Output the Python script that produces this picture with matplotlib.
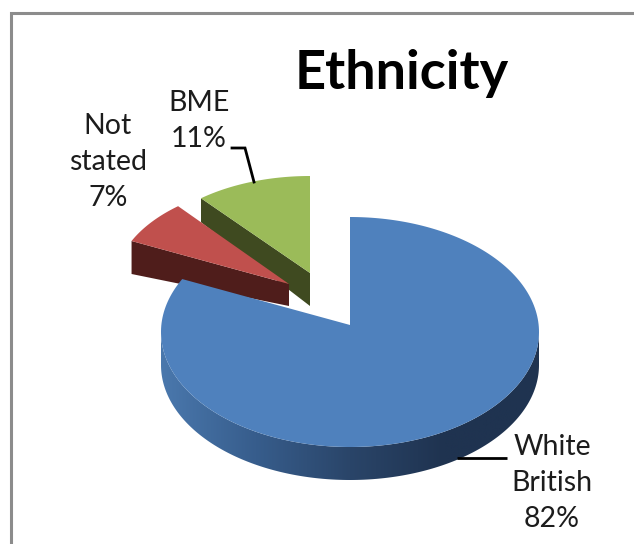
import numpy as np
import matplotlib
matplotlib.use('Agg')
import matplotlib.pyplot as plt
from matplotlib.colors import LinearSegmentedColormap
from matplotlib.patches import Polygon

categories = ['White\nBritish', 'Not\nstated', 'BME']
shares = [82, 7, 11]

top_colors = ['#4f81bd', '#c0504d', '#9bbb59']
wall_colors = ['#1f3350', '#4f1d1b', '#3f4a20']

plt.rcParams['font.family'] = ['Lato', 'DejaVu Sans']

fig = plt.figure(figsize=(6.34, 5.44), dpi=100)
ax = fig.add_axes([0, 0, 1, 1])
ax.set_xlim(0, 634)
ax.set_ylim(544, 0)
ax.axis('off')

# slice angles, clockwise from 12 o'clock
edges = np.cumsum([0] + shares) / sum(shares) * 2 * np.pi


def arc(t0, t1, cx, cy, rx, ry, n=80, warp=0.0):
    t = np.linspace(t0, t1, n)
    # warp foreshortens the angles the way a tilted disc does
    t = t - warp * np.sin(2 * t)
    return np.column_stack([cx + rx * np.sin(t), cy - ry * np.cos(t)])


def draw_exploded(i, apex, rx, ry, depth_outer, depth_apex, zorder):
    pts = arc(edges[i], edges[i + 1], apex[0], apex[1], rx, ry)
    outer = pts[0]
    # cut face running from the rim to the centre
    wall = [outer, apex, (apex[0], apex[1] + depth_apex), (outer[0], outer[1] + depth_outer)]
    ax.add_patch(Polygon(wall, closed=True, fc=wall_colors[i], ec='none', zorder=zorder))
    ax.add_patch(Polygon(np.vstack([pts, apex]), closed=True, fc=top_colors[i], ec='none', zorder=zorder))


# smaller slices sit behind the big one
draw_exploded(2, (310, 273), 171, 97, 24, 33, 2)
draw_exploded(1, (289, 284), 174, 101, 33, 22, 3)

# main slice: curved side with a horizontal shade, then the top face
cx, cy, rx, ry, depth = 350, 332, 189, 115, 33
lower = arc(np.pi / 2, 1.5 * np.pi, cx, cy, rx, ry, n=200)
side = Polygon(np.vstack([lower, lower[::-1] + (0, depth)]), closed=True,
               fc='none', ec='none', transform=ax.transData)
ax.add_patch(side)
shade = LinearSegmentedColormap.from_list('side', ['#4a78ad', '#375d8c', '#2a4569', wall_colors[0], wall_colors[0]])
grad = ax.imshow(np.linspace(0, 1, 256)[None, :], extent=(161, 539, 520, 300), cmap=shade,
                 aspect='auto', zorder=4)
grad.set_clip_path(side)
ax.set_xlim(0, 634)
ax.set_ylim(544, 0)

main_arc = arc(edges[0], edges[1], cx, cy, rx, ry, n=240, warp=0.05)
ax.add_patch(Polygon(np.vstack([main_arc, (350, 325)]), closed=True,
                     fc=top_colors[0], ec='none', zorder=5))

# leader lines
ax.plot([457, 507], [458, 458], color='black', lw=2, zorder=6, solid_capstyle='butt')
ax.plot([232, 245, 254], [148, 148, 182], color='black', lw=2, zorder=6, solid_joinstyle='miter')

# labels
label_pos = [(552, 483), (108, 162), (199, 121)]
for name, share, (x, y) in zip(categories, shares, label_pos):
    ax.text(x, y, f'{name}\n{share}%', ha='center', va='center', fontsize=20.5,
            color='#1c1c1c', linespacing=1.46, zorder=7)

ax.text(402, 74, 'Ethnicity', ha='center', va='center', fontsize=39,
        fontweight='bold', color='black', zorder=7)

# chart area border, left and top only
ax.plot([10.5, 10.5, 634], [544, 12.5, 12.5], color='#8c8c8c', lw=2.2, zorder=8,
        solid_joinstyle='miter')

fig.savefig('out.png', dpi=100, facecolor='white')
